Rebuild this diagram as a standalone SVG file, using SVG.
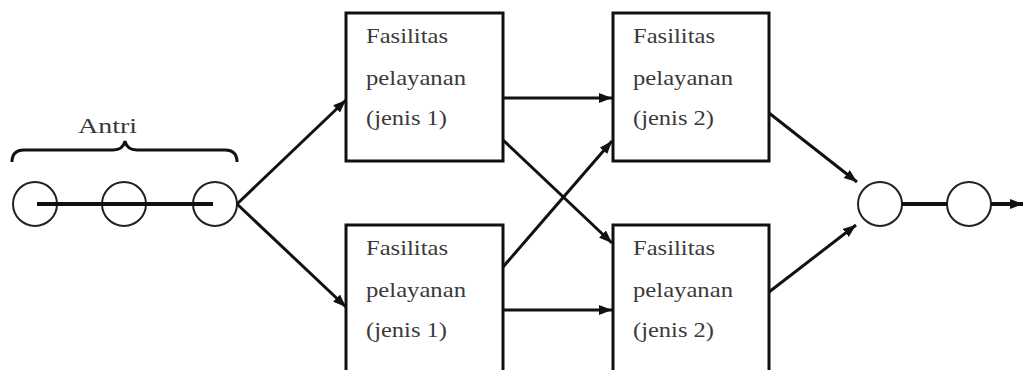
<svg xmlns="http://www.w3.org/2000/svg" width="1023" height="370" viewBox="0 0 1023 370">
<style>
.box{fill:#fff;stroke:#111;stroke-width:3}
.t{font-family:"Liberation Serif","Times New Roman",serif;font-size:21px;fill:#3a3a3a}
.c{fill:#fff;stroke:#222;stroke-width:2}
.ln{stroke:#111;stroke-width:3;fill:none}
.thick{stroke:#111;stroke-width:4;fill:none}
</style>
<defs>
<marker id="ah" markerUnits="userSpaceOnUse" markerWidth="14" markerHeight="12" refX="13" refY="5" orient="auto">
<path d="M0,0 L13,5 L0,10 z" fill="#111"/>
</marker>
</defs>
<rect width="1023" height="370" fill="#fff"/>
<g id="queue">
<path class="ln" d="M12,162 Q12,150 24,150 L113,150 Q123,150 125,141 Q127,150 137,150 L225,150 Q237,150 237,162" stroke-width="2"/>
<text class="t" x="78" y="133" font-size="23" textLength="59" lengthAdjust="spacingAndGlyphs">Antri</text>
<circle class="c" cx="35" cy="204" r="22"/>
<circle class="c" cx="124" cy="204" r="22"/>
<circle class="c" cx="215" cy="204" r="22"/>
<line class="thick" x1="37" y1="204" x2="213" y2="204"/>
</g>
<g id="box1">
<rect class="box" x="346" y="13" width="157" height="148"/>
<text class="t" x="366" y="43" textLength="82" lengthAdjust="spacingAndGlyphs">Fasilitas</text>
<text class="t" x="366" y="85" textLength="100" lengthAdjust="spacingAndGlyphs">pelayanan</text>
<text class="t" x="366" y="125" textLength="81" lengthAdjust="spacingAndGlyphs">(jenis 1)</text>
</g>
<g id="box2">
<rect class="box" x="346" y="225" width="157" height="160"/>
<text class="t" x="366" y="255" textLength="82" lengthAdjust="spacingAndGlyphs">Fasilitas</text>
<text class="t" x="366" y="297" textLength="100" lengthAdjust="spacingAndGlyphs">pelayanan</text>
<text class="t" x="366" y="337" textLength="81" lengthAdjust="spacingAndGlyphs">(jenis 1)</text>
</g>
<g id="box3">
<rect class="box" x="613" y="13" width="156" height="148"/>
<text class="t" x="633" y="43" textLength="82" lengthAdjust="spacingAndGlyphs">Fasilitas</text>
<text class="t" x="633" y="85" textLength="100" lengthAdjust="spacingAndGlyphs">pelayanan</text>
<text class="t" x="633" y="125" textLength="81" lengthAdjust="spacingAndGlyphs">(jenis 2)</text>
</g>
<g id="box4">
<rect class="box" x="613" y="225" width="156" height="160"/>
<text class="t" x="633" y="255" textLength="82" lengthAdjust="spacingAndGlyphs">Fasilitas</text>
<text class="t" x="633" y="297" textLength="100" lengthAdjust="spacingAndGlyphs">pelayanan</text>
<text class="t" x="633" y="337" textLength="81" lengthAdjust="spacingAndGlyphs">(jenis 2)</text>
</g>
<g id="exit">
<circle class="c" cx="880" cy="204" r="22"/>
<circle class="c" cx="969" cy="204" r="22"/>
</g>
<g id="connectors">
<line class="ln" x1="237" y1="204" x2="346" y2="100" marker-end="url(#ah)"/>
<line class="ln" x1="237" y1="204" x2="346" y2="307" marker-end="url(#ah)"/>
<line class="ln" x1="503" y1="98" x2="612" y2="98" marker-end="url(#ah)"/>
<line class="ln" x1="503" y1="310" x2="612" y2="310" marker-end="url(#ah)"/>
<line class="ln" x1="503" y1="140" x2="612" y2="243" marker-end="url(#ah)"/>
<line class="ln" x1="503" y1="267" x2="612" y2="141" marker-end="url(#ah)"/>
<line class="ln" x1="769" y1="113" x2="857" y2="182" marker-end="url(#ah)"/>
<line class="ln" x1="769" y1="292" x2="856" y2="225" marker-end="url(#ah)"/>
<line class="thick" x1="902" y1="204" x2="947" y2="204"/>
<line class="thick" x1="991" y1="204" x2="1023" y2="204" marker-end="url(#ah)"/>
</g>
</svg>
